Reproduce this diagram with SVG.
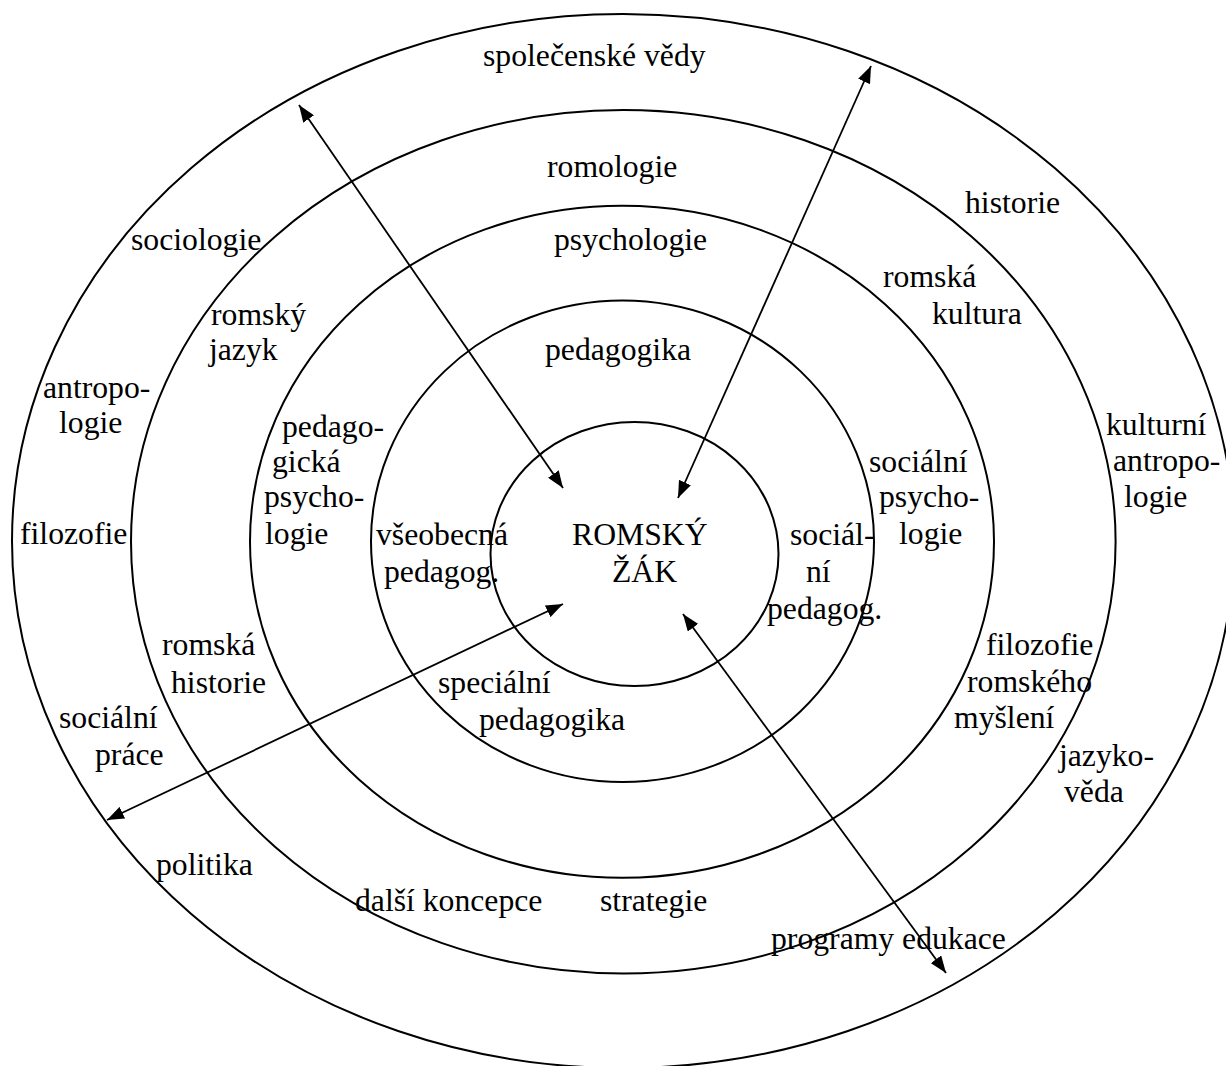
<svg xmlns="http://www.w3.org/2000/svg" width="1226" height="1066" viewBox="0 0 1226 1066">
<style>
.ring{fill:none;stroke:#000;stroke-width:2}
.t{font-family:"Liberation Serif","Times New Roman",serif;font-size:31.7px;fill:#000}
.arr{fill:none;stroke:#000;stroke-width:1.8;marker-start:url(#ah);marker-end:url(#ah)}
</style>
<defs>
<marker id="ah" markerUnits="userSpaceOnUse" markerWidth="18" markerHeight="13" refX="17" refY="6.5" orient="auto-start-reverse" viewBox="0 0 18 13">
<path d="M0,0 L17,6.5 L0,13 z" fill="#000"/>
</marker>
</defs>
<rect width="1226" height="1066" fill="#fff"/>
<g id="ring-spolecenske-vedy">
<ellipse class="ring" cx="623" cy="541" rx="611" ry="527"/>
<text class="t" x="483" y="66">společenské vědy</text>
<text class="t" x="131" y="250">sociologie</text>
<text class="t" x="965" y="213">historie</text>
<text class="t" x="43" y="398">antropo-</text>
<text class="t" x="59" y="433">logie</text>
<text class="t" x="20" y="544">filozofie</text>
<text class="t" x="1106" y="435">kulturní</text>
<text class="t" x="1113" y="471">antropo-</text>
<text class="t" x="1124" y="507">logie</text>
<text class="t" x="59" y="728">sociální</text>
<text class="t" x="95" y="765">práce</text>
<text class="t" x="1059" y="766">jazyko-</text>
<text class="t" x="1064" y="802">věda</text>
<text class="t" x="156" y="875">politika</text>
</g>
<g id="ring-romologie">
<ellipse class="ring" cx="623.3" cy="541.7" rx="492.3" ry="431.7"/>
<text class="t" x="547" y="177">romologie</text>
<text class="t" x="211" y="325">romský</text>
<text class="t" x="209" y="360">jazyk</text>
<text class="t" x="883" y="287">romská</text>
<text class="t" x="932" y="324">kultura</text>
<text class="t" x="162" y="655">romská</text>
<text class="t" x="171" y="693">historie</text>
<text class="t" x="986" y="655">filozofie</text>
<text class="t" x="967" y="692">romského</text>
<text class="t" x="954" y="728">myšlení</text>
<text class="t" x="355" y="911">další koncepce</text>
<text class="t" x="771" y="949">programy edukace</text>
</g>
<g id="ring-psychologie">
<ellipse class="ring" cx="622" cy="541.8" rx="372" ry="336"/>
<text class="t" x="554" y="250">psychologie</text>
<text class="t" x="282" y="437">pedago-</text>
<text class="t" x="272" y="472">gická</text>
<text class="t" x="264" y="507">psycho-</text>
<text class="t" x="265" y="544">logie</text>
<text class="t" x="869" y="472">sociální</text>
<text class="t" x="879" y="507">psycho-</text>
<text class="t" x="899" y="544">logie</text>
<text class="t" x="600" y="911">strategie</text>
</g>
<g id="ring-pedagogika">
<ellipse class="ring" cx="622.5" cy="541.3" rx="251.5" ry="240.7"/>
<text class="t" x="545" y="360">pedagogika</text>
<text class="t" x="376" y="545">všeobecná</text>
<text class="t" x="384" y="582">pedagog.</text>
<text class="t" x="790" y="545">sociál-</text>
<text class="t" x="806" y="582">ní</text>
<text class="t" x="767" y="619">pedagog.</text>
<text class="t" x="438" y="693">speciální</text>
<text class="t" x="479" y="730">pedagogika</text>
</g>
<g id="romsky-zak">
<ellipse class="ring" cx="634.5" cy="554" rx="144" ry="132"/>
<text class="t" x="572" y="545">ROMSKÝ</text>
<text class="t" x="612" y="582">ŽÁK</text>
</g>
<g id="connectors">
<path class="arr" d="M299,105 L563,488"/>
<path class="arr" d="M871,66 L678,498"/>
<path class="arr" d="M107,820 L563,604"/>
<path class="arr" d="M683,614 L946,973"/>
</g>
</svg>
